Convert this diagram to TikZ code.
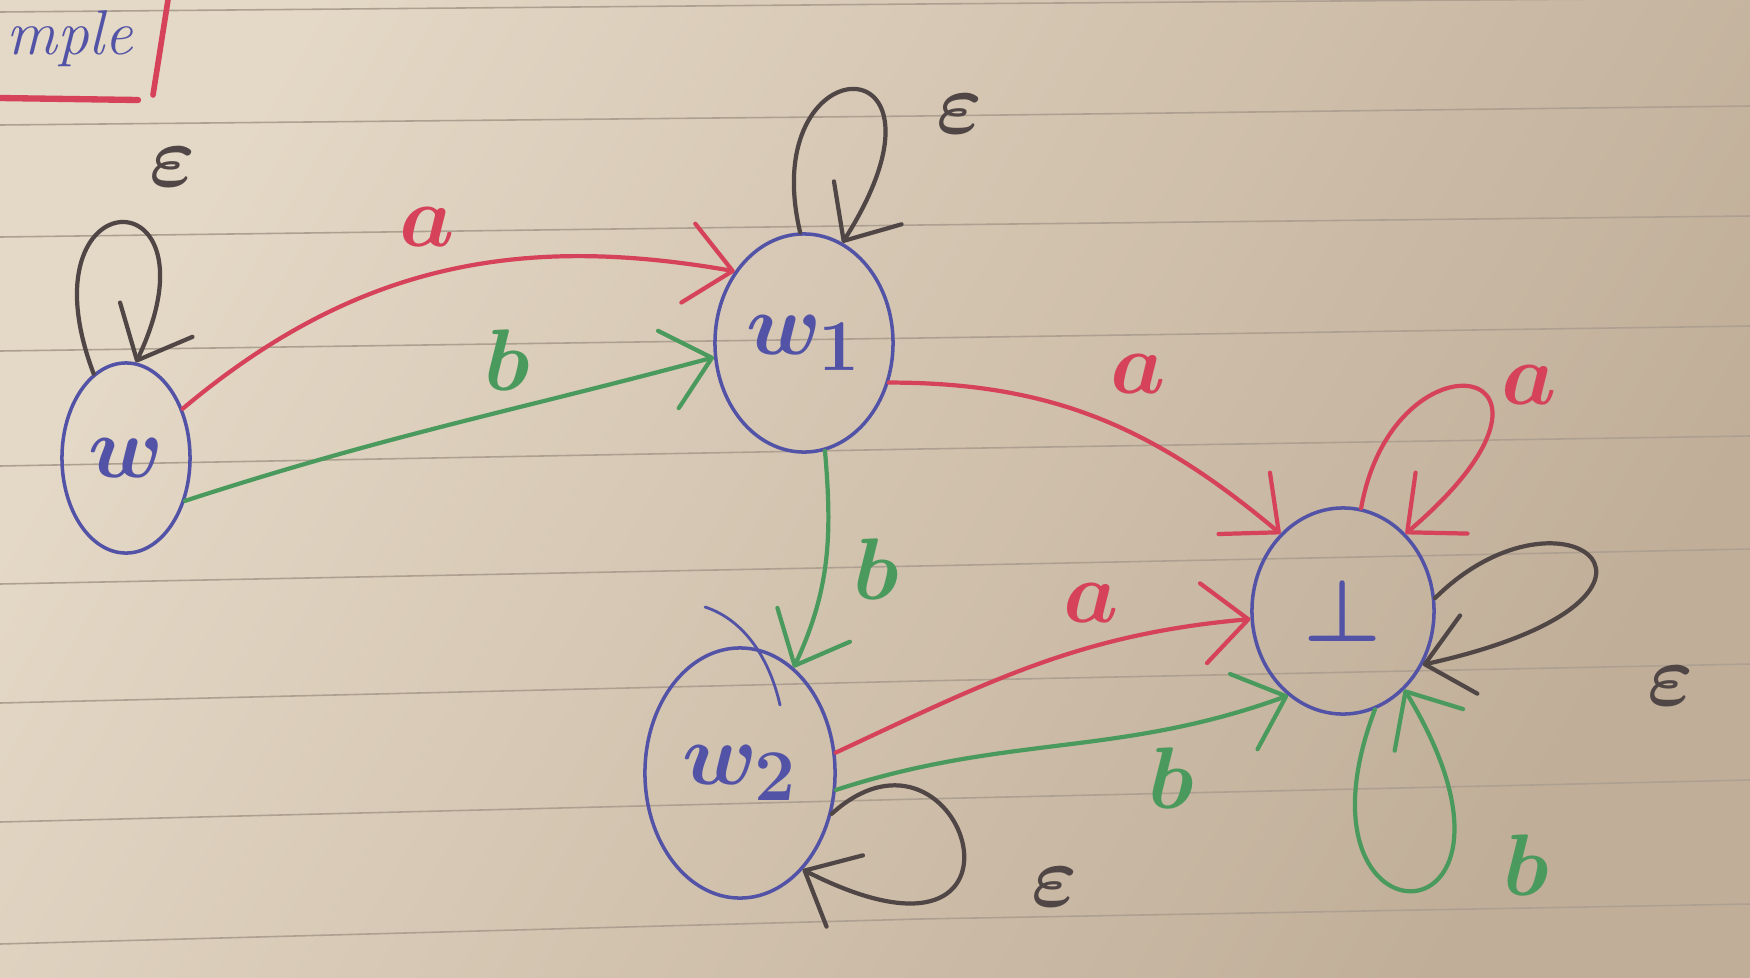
\documentclass[tikz,border=0pt]{standalone}
\usetikzlibrary{arrows.meta,shapes.geometric}
\definecolor{inkblue}{HTML}{5253A6}
\definecolor{inkred}{HTML}{D6425A}
\definecolor{inkgreen}{HTML}{4A9A5E}
\definecolor{inkgray}{HTML}{504646}
\definecolor{paperTL}{HTML}{E4D8C6}
\definecolor{paperBR}{HTML}{C0AE98}
\definecolor{ruleink}{HTML}{ADA091}
\begin{document}
\begin{tikzpicture}[x=0.01cm, y=0.01cm, line cap=round, line join=round,
  state/.style={draw=inkblue, line width=1pt, ellipse, inner sep=0pt, text=inkblue,
    font=\fontsize{28}{30}\selectfont\boldmath},
  pen/.style={line width=1.2pt},
  arr/.style={pen, -{Straight Barb[length=4.5mm, width=8mm, round]}},
  lbl/.style={font=\fontsize{28}{30}\selectfont\boldmath, inner sep=0pt},
  eps/.style={font=\fontsize{46}{48}\selectfont\boldmath, text=inkgray, inner sep=0pt},
  ruled/.style={draw=ruleink, line width=0.45pt}]
\useasboundingbox (0,0) rectangle (1750,-978);
\shade[top color=paperTL, bottom color=paperBR, shading angle=60] (0,0) rectangle (1750,-978);
\foreach \l/\m/\r in {12/4/-2, 125/116/106, 237/225/216, 351/338/326, 466/449/436, 584/566/549, 703/681/664, 822/799/780, 944/919/904}
  \draw[ruled] (0,-\l) -- (920,-\m) -- (1750,-\r);

% heading fragment
\node[anchor=base west, text=inkblue, font=\fontsize{18}{20}\selectfont\itshape, inner sep=0pt] (title) at (6,-54) {mple};
\draw[inkred, line width=1.6pt] (168,0) -- (153,-95);
\draw[inkred, line width=1.8pt] (0,-98) -- (138,-100);

% states
\node[state, minimum width=1.28cm, minimum height=1.90cm] (w) at (126,-458) {$w$};
\node[state, minimum width=1.78cm, minimum height=2.18cm] (w1) at (804,-343) {$w_1$};
\node[state, minimum width=1.90cm, minimum height=2.50cm] (w2) at (740,-773) {$w_2$};
\node[state, minimum width=1.82cm, minimum height=2.06cm, font=\fontsize{44}{46}\selectfont\boldmath] (bot) at (1343,-611) {$\bot$};
\draw[inkblue, line width=0.8pt] (705,-607) .. controls (745,-620) and (770,-660) .. (780,-705);

% transitions
\draw[arr, inkred] (w.41) to[out=40, in=170] (w1.134);
\draw[arr, inkgreen] (w.-36) to[out=18, in=195] (w1.189);
\draw[arr, inkred] (w1.-25) to[out=0, in=140] (bot.129);
\draw[arr, inkgreen] (w1.-79) to[out=-85, in=65] (w2.63);
\draw[arr, inkred] (w2.12) to[out=25, in=185] (bot.185);
\draw[arr, inkgreen] (w2.-10) to[out=18, in=200] (bot.237);

% loops
\draw[arr, inkgray] (w.111) .. controls +(-75,198) and +(90,190) .. (w.84);
\draw[arr, inkgray] (w1.92) .. controls +(-45,190) and +(130,205) .. (w1.69);
\draw[arr, inkgray] (w2.-24) .. controls +(133,120) and +(255,-130) .. (w2.-57);
\draw[arr, inkred] (bot.80) .. controls +(33,185) and +(202,172) .. (bot.51);
\draw[arr, inkgray] (bot.8) .. controls +(129,128) and +(303,67) .. (bot.-34);
\draw[arr, inkgreen] (bot.-72) .. controls +(-95,-250) and +(158,-260) .. (bot.-52);

% labels
\node[lbl, text=inkred] (la1) at (427,-227) {$a$};
\node[lbl, text=inkgreen] (lb1) at (507,-360) {$b$};
\node[lbl, text=inkred] (la2) at (1138,-374) {$a$};
\node[lbl, text=inkgreen] (lb2) at (876,-569) {$b$};
\node[lbl, text=inkred] (la3) at (1091,-603) {$a$};
\node[lbl, text=inkgreen] (lb3) at (1171,-778) {$b$};
\node[lbl, text=inkred] (la4) at (1529,-385) {$a$};
\node[lbl, text=inkgreen] (lb4) at (1526,-865) {$b$};
\node[eps] (e0) at (173,-167) {$\varepsilon$};
\node[eps] (e1) at (960,-114) {$\varepsilon$};
\node[eps] (e2) at (1055,-887) {$\varepsilon$};
\node[eps] (e3) at (1671,-686) {$\varepsilon$};
\end{tikzpicture}
\end{document}
